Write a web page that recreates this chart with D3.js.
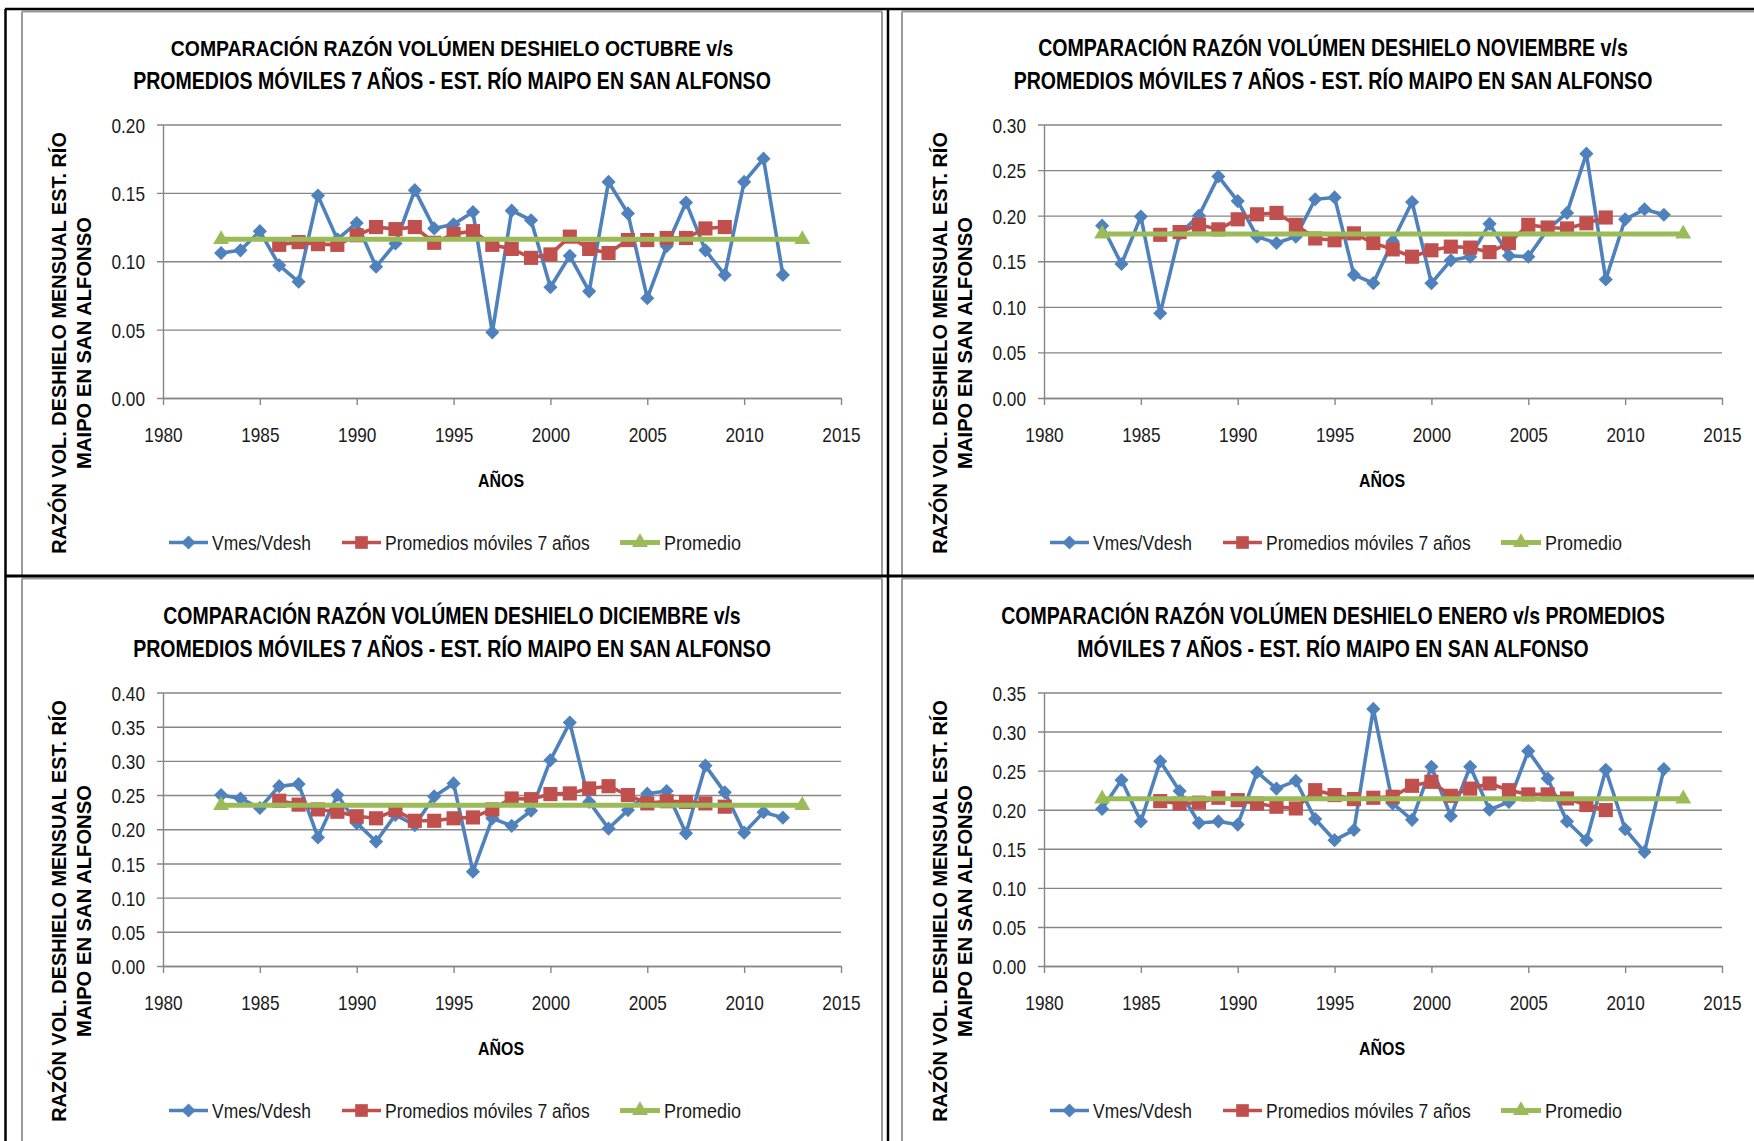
<!DOCTYPE html>
<html>
<head>
<meta charset="utf-8">
<script src="https://cdn.jsdelivr.net/npm/d3@7"></script>
<style>
  html, body { margin: 0; padding: 0; background: #fff; overflow: hidden; }
  svg { display: block; }
</style>
</head>
<body>
<svg id="chart" width="1754" height="1141"></svg>
<script>
// ---------------- DATA ----------------
const years = [1983, 1984, 1985, 1986, 1987, 1988, 1989, 1990, 1991, 1992, 1993, 1994, 1995, 1996, 1997,
               1998, 1999, 2000, 2001, 2002, 2003, 2004, 2005, 2006, 2007, 2008, 2009, 2010, 2011, 2012];
const movYears = [1986, 1987, 1988, 1989, 1990, 1991, 1992, 1993, 1994, 1995, 1996, 1997,
                  1998, 1999, 2000, 2001, 2002, 2003, 2004, 2005, 2006, 2007, 2008, 2009];
const avgYears = [1983, 2013];
const xTicks = [1980, 1985, 1990, 1995, 2000, 2005, 2010, 2015];

const octVmes = [0.106, 0.108, 0.122, 0.097, 0.085, 0.148, 0.116, 0.128, 0.096, 0.113, 0.152, 0.124, 0.127, 0.136, 0.048,
                 0.137, 0.130, 0.081, 0.104, 0.078, 0.158, 0.135, 0.073, 0.111, 0.143, 0.108, 0.090, 0.158, 0.175, 0.090];
const octMov = [0.112, 0.114, 0.1125, 0.112, 0.119, 0.125, 0.1235, 0.125, 0.1135, 0.120, 0.122, 0.112,
                0.109, 0.1025, 0.105, 0.118, 0.109, 0.106, 0.1155, 0.1155, 0.117, 0.117, 0.124, 0.125];
const octProm = [0.116, 0.116];
const octTicks = [0.00, 0.05, 0.10, 0.15, 0.20];

const novVmes = [0.189, 0.147, 0.199, 0.093, 0.180, 0.200, 0.243, 0.216, 0.177, 0.170, 0.177, 0.218, 0.220, 0.135, 0.126,
                 0.172, 0.215, 0.126, 0.151, 0.155, 0.191, 0.156, 0.155, 0.185, 0.203, 0.268, 0.130, 0.196, 0.207, 0.201];
const novMov = [0.179, 0.182, 0.190, 0.185, 0.196, 0.2015, 0.203, 0.190, 0.175, 0.173, 0.1806, 0.170,
                0.163, 0.155, 0.162, 0.166, 0.165, 0.160, 0.170, 0.190, 0.187, 0.186, 0.1916, 0.198];
const novProm = [0.180, 0.180];
const novTicks = [0.00, 0.05, 0.10, 0.15, 0.20, 0.25, 0.30];

const decVmes = [0.250, 0.245, 0.231, 0.263, 0.266, 0.188, 0.250, 0.209, 0.182, 0.221, 0.206, 0.248, 0.267, 0.138, 0.216,
                 0.205, 0.227, 0.301, 0.356, 0.240, 0.201, 0.228, 0.252, 0.256, 0.194, 0.293, 0.254, 0.195, 0.225, 0.217];
const decMov = [0.2417, 0.236, 0.229, 0.2256, 0.219, 0.216, 0.228, 0.2124, 0.2124, 0.216, 0.2173, 0.229,
                0.245, 0.244, 0.2514, 0.2524, 0.2597, 0.263, 0.250, 0.2378, 0.241, 0.240, 0.2378, 0.233];
const decProm = [0.235, 0.235];
const decTicks = [0.00, 0.05, 0.10, 0.15, 0.20, 0.25, 0.30, 0.35, 0.40];

const eneVmes = [0.201, 0.238, 0.185, 0.262, 0.224, 0.183, 0.185, 0.181, 0.248, 0.227, 0.237, 0.188, 0.161, 0.174, 0.329,
                 0.208, 0.187, 0.255, 0.192, 0.255, 0.200, 0.210, 0.275, 0.240, 0.185, 0.161, 0.251, 0.175, 0.146, 0.252];
const eneMov = [0.211, 0.208, 0.209, 0.2153, 0.2123, 0.208, 0.2038, 0.2016, 0.225, 0.2187, 0.2136, 0.2153,
                0.2166, 0.2306, 0.2357, 0.2178, 0.227, 0.2336, 0.225, 0.2196, 0.2196, 0.2144, 0.206, 0.1995];
const eneProm = [0.214, 0.214];
const eneTicks = [0.00, 0.05, 0.10, 0.15, 0.20, 0.25, 0.30, 0.35];

const titlesOct = ["COMPARACIÓN RAZÓN VOLÚMEN DESHIELO OCTUBRE v/s", "PROMEDIOS MÓVILES 7 AÑOS - EST. RÍO MAIPO EN SAN ALFONSO"];
const titlesNov = ["COMPARACIÓN RAZÓN VOLÚMEN DESHIELO NOVIEMBRE v/s", "PROMEDIOS MÓVILES 7 AÑOS - EST. RÍO MAIPO EN SAN ALFONSO"];
const titlesDec = ["COMPARACIÓN RAZÓN VOLÚMEN DESHIELO DICIEMBRE v/s", "PROMEDIOS MÓVILES 7 AÑOS - EST. RÍO MAIPO EN SAN ALFONSO"];
const titlesEne = ["COMPARACIÓN RAZÓN VOLÚMEN DESHIELO ENERO v/s PROMEDIOS", "MÓVILES 7 AÑOS - EST. RÍO MAIPO EN SAN ALFONSO"];
const yLabelLines = ["RAZÓN VOL. DESHIELO MENSUAL EST. RÍO", "MAIPO EN SAN ALFONSO"];
const xLabel = "AÑOS";
const seriesNames = ["Vmes/Vdesh", "Promedios móviles 7 años", "Promedio"];

// ---------------- STYLE / LAYOUT ----------------
const COL_BLUE = "#4F81BD", COL_RED = "#C0504D", COL_GREEN = "#9BBB59";
const FONT = "'Liberation Sans', Arial, sans-serif";
const CONDENSE = 0.82;

const panels = [
  { dx: 0,   dy: 0,   vmes: octVmes, mov: octMov, prom: octProm, ticks: octTicks, titles: titlesOct, tw: [563, 638] },
  { dx: 881, dy: 0,   vmes: novVmes, mov: novMov, prom: novProm, ticks: novTicks, titles: titlesNov, tw: [590, 639] },
  { dx: 0,   dy: 568, vmes: decVmes, mov: decMov, prom: decProm, ticks: decTicks, titles: titlesDec, tw: [578, 638] },
  { dx: 881, dy: 568, vmes: eneVmes, mov: eneMov, prom: eneProm, ticks: eneTicks, titles: titlesEne, tw: [664, 512] }
];

const svg = d3.select("#chart");
svg.append("rect").attr("width", 1754).attr("height", 1141).attr("fill", "#fff");

function condense(sel, factor) {
  sel.each(function () {
    const w = this.getComputedTextLength();
    d3.select(this).attr("textLength", w * factor).attr("lengthAdjust", "spacingAndGlyphs");
  });
}
// Text horizontally scaled (via transform) to a target width
function scaledText(parent, txt, o) {
  const t = parent.append("text")
    .attr("text-anchor", o.anchor || "middle")
    .attr("font-family", FONT)
    .attr("font-size", o.size)
    .attr("font-weight", o.weight || "normal")
    .attr("fill", o.fill || "#000")
    .text(txt);
  if (o.baseline) t.attr("dominant-baseline", o.baseline);
  if (o.dy) t.attr("dy", o.dy);
  const w = t.node().getComputedTextLength();
  const s = o.width / w;
  t.attr("transform", `translate(${o.x},${o.y}) rotate(${o.rotate || 0}) scale(${s},1)`);
  return t;
}

// chart borders (grey) drawn as individual edges
const borderLines = [
  [22, 11.5, 882, 11.5], [22, 11.5, 22, 577], [882, 11.5, 882, 577],
  [902, 11.5, 1754, 11.5], [902, 11.5, 902, 577],
  [22, 578.5, 882, 578.5], [22, 578.5, 22, 1141], [882, 578.5, 882, 1141],
  [902, 578.5, 1754, 578.5], [902, 578.5, 902, 1141]
];
svg.append("g").selectAll("line").data(borderLines).join("line")
  .attr("x1", d => d[0]).attr("y1", d => d[1]).attr("x2", d => d[2]).attr("y2", d => d[3])
  .attr("stroke", "#9a9a9a").attr("stroke-width", 2);

// black frame lines
const frame = svg.append("g").attr("stroke", "#000").attr("stroke-width", 2.5);
frame.append("line").attr("x1", 5).attr("x2", 1754).attr("y1", 9).attr("y2", 9);
frame.append("line").attr("x1", 5.5).attr("x2", 5.5).attr("y1", 9).attr("y2", 1141);
frame.append("line").attr("x1", 888).attr("x2", 888).attr("y1", 9).attr("y2", 1141);
frame.append("line").attr("x1", 5).attr("x2", 1754).attr("y1", 576).attr("y2", 576).attr("stroke-width", 3);

panels.forEach(p => {
  const g = svg.append("g").attr("transform", `translate(${p.dx},${p.dy})`);
  const x = d3.scaleLinear().domain([1980, 2015]).range([163, 841]);
  const y = d3.scaleLinear().domain([0, d3.max(p.ticks)]).range([398, 124.5]);
  const W = 841 - 163;

  // Y axis with gridlines
  const yAxis = g.append("g").attr("transform", "translate(163,0)")
    .call(d3.axisLeft(y).tickValues(p.ticks).tickFormat(d3.format(".2f"))
      .tickSizeInner(-W).tickSizeOuter(0).tickPadding(18));
  yAxis.select(".domain").attr("stroke", "#868686").attr("stroke-width", 1.4);
  yAxis.selectAll(".tick line").attr("x1", -6).attr("stroke", "#868686").attr("stroke-width", 1.4);
  yAxis.selectAll(".tick text").attr("font-family", FONT).attr("font-size", 21).attr("fill", "#1a1a1a")
    .attr("dy", "0.36em");
  condense(yAxis.selectAll(".tick text"), CONDENSE);

  // X axis
  const xAxis = g.append("g").attr("transform", "translate(0,398)")
    .call(d3.axisBottom(x).tickValues(xTicks).tickFormat(d3.format("d")).tickSizeInner(7).tickSizeOuter(0).tickPadding(22));
  xAxis.select(".domain").attr("stroke", "#868686").attr("stroke-width", 1.4);
  xAxis.selectAll(".tick line").attr("stroke", "#868686").attr("stroke-width", 1.4);
  xAxis.selectAll(".tick text").attr("font-family", FONT).attr("font-size", 21).attr("fill", "#1a1a1a");
  condense(xAxis.selectAll(".tick text"), CONDENSE);

  // Titles
  p.titles.forEach((t, i) => {
    scaledText(g, t, { x: 452, y: 56 + i * 32.5, size: 23, weight: "bold", width: p.tw[i] });
  });

  // Y label (rotated)
  const yl = [{ t: yLabelLines[0], cx: 59, w: 422 }, { t: yLabelLines[1], cx: 84, w: 252 }];
  yl.forEach(d => {
    scaledText(g, d.t, { x: d.cx, y: 343, rotate: -90, size: 20, weight: "bold", width: d.w, baseline: "central" });
  });

  // X label
  scaledText(g, xLabel, { x: 501, y: 487, size: 19, weight: "bold", width: 46 });

  const line = d3.line().x(d => x(d[0])).y(d => y(d[1]));
  const diamond = d3.symbol().type(d3.symbolSquare).size(100);
  const square = d3.symbol().type(d3.symbolSquare).size(200);
  const tri = d3.symbol().type(d3.symbolTriangle).size(110);

  // Series 1: Vmes/Vdesh
  const s1 = years.map((yr, i) => [yr, p.vmes[i]]);
  g.append("path").datum(s1).attr("d", line).attr("fill", "none").attr("stroke", COL_BLUE)
    .attr("stroke-width", 3.6).attr("stroke-linejoin", "round");
  g.append("g").selectAll("path").data(s1).join("path")
    .attr("transform", d => `translate(${x(d[0])},${y(d[1])}) rotate(45)`).attr("d", diamond).attr("fill", COL_BLUE);

  // Series 2: moving averages
  const s2 = movYears.map((yr, i) => [yr, p.mov[i]]);
  g.append("path").datum(s2).attr("d", line).attr("fill", "none").attr("stroke", COL_RED)
    .attr("stroke-width", 3.6).attr("stroke-linejoin", "round");
  g.append("g").selectAll("path").data(s2).join("path")
    .attr("transform", d => `translate(${x(d[0])},${y(d[1])})`).attr("d", square).attr("fill", COL_RED);

  // Series 3: Promedio
  const s3 = avgYears.map((yr, i) => [yr, p.prom[i]]);
  g.append("path").datum(s3).attr("d", line).attr("fill", "none").attr("stroke", COL_GREEN).attr("stroke-width", 5);
  g.append("g").selectAll("path").data(s3).join("path")
    .attr("transform", d => `translate(${x(d[0])},${y(d[1])})`).attr("d", tri).attr("fill", COL_GREEN);

  // Legend
  const legY = 542.5;
  const items = [
    { name: seriesNames[0], col: COL_BLUE, x0: 169, x1: 208, tx: 212, tw: 99, sym: diamond, rot: 45, sw: 3.6 },
    { name: seriesNames[1], col: COL_RED, x0: 342, x1: 381, tx: 385, tw: 205, sym: d3.symbol().type(d3.symbolSquare).size(160), rot: 0, sw: 3.6 },
    { name: seriesNames[2], col: COL_GREEN, x0: 620, x1: 660, tx: 664, tw: 77, sym: tri, rot: 0, sw: 5 }
  ];
  const leg = g.append("g");
  items.forEach(it => {
    leg.append("line").attr("x1", it.x0).attr("x2", it.x1).attr("y1", legY).attr("y2", legY)
      .attr("stroke", it.col).attr("stroke-width", it.sw);
    leg.append("path").attr("transform", `translate(${(it.x0 + it.x1) / 2},${legY}) rotate(${it.rot})`)
      .attr("d", it.sym).attr("fill", it.col);
    scaledText(leg, it.name, { x: it.tx, y: legY, anchor: "start", size: 20, width: it.tw, dy: "0.36em", fill: "#1a1a1a" });
  });
});
</script>
</body>
</html>
